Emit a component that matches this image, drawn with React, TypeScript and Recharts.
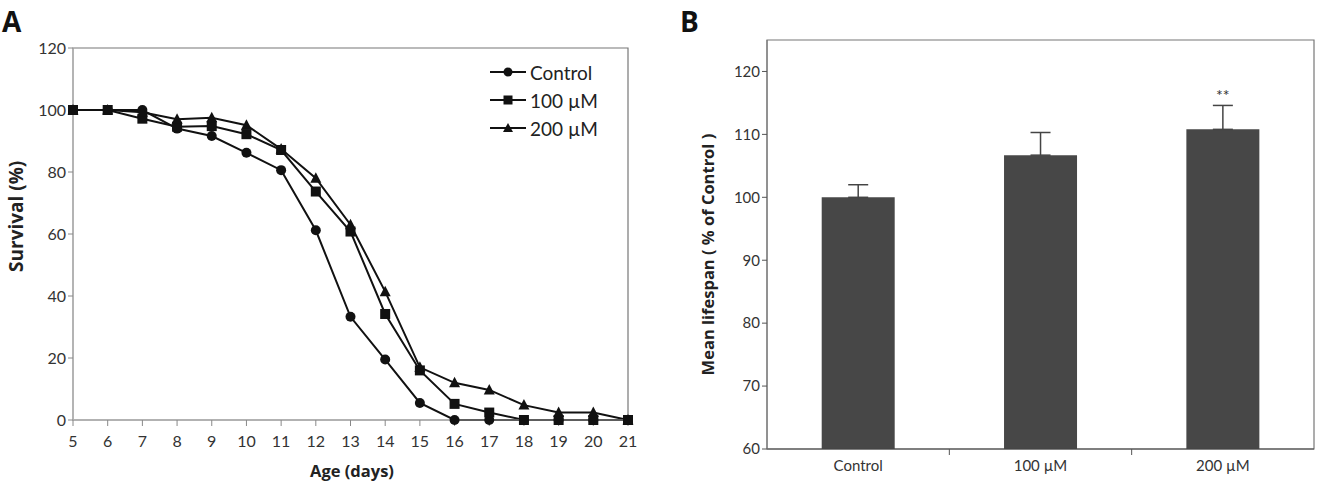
import {
  LineChart, Line, BarChart, Bar, ErrorBar, XAxis, YAxis,
  ReferenceArea, ReferenceDot,
} from "recharts";

const days = [5, 6, 7, 8, 9, 10, 11, 12, 13, 14, 15, 16, 17, 18, 19, 20, 21];
const control = [100, 100, 100, 94, 91.6, 86.2, 80.6, 61.2, 33.3, 19.5, 5.5, 0, 0, 0, 0, 0, 0];
const um100 = [100, 100, 97.2, 94.6, 94.8, 92.2, 87.1, 73.7, 60.8, 34.2, 16, 5.2, 2.4, 0, 0, 0, 0];
const um200 = [100, 100, 99.3, 97, 97.5, 95.1, 87.4, 78, 63, 41.4, 17, 12, 9.7, 4.8, 2.4, 2.4, 0];

const survivalTicks = [0, 20, 40, 60, 80, 100, 120];
const seriesNames = [
  { key: "control", name: "Control" },
  { key: "um100", name: "100 µM" },
  { key: "um200", name: "200 µM" },
];

const groups = ["Control", "100 µM", "200 µM"];
const meanLifespan = [100, 106.7, 110.8];
const sem = [2.0, 3.6, 3.8];
const lifespanTicks = [60, 70, 80, 90, 100, 110, 120];

const survivalData = days.map((d, i) => ({
  day: d,
  control: control[i],
  um100: um100[i],
  um200: um200[i],
}));

const lifespanData = groups.map((g, i) => ({
  group: g,
  mean: meanLifespan[i],
  err: [0, sem[i]],
}));

const FONT = "Lato, 'Open Sans', sans-serif";
const BOLD = "'Open Sans', sans-serif";
const INK = "#111";

function Circle(props: any) {
  const { cx, cy, index } = props;
  return <circle key={"c" + index} cx={cx} cy={cy} r={5} fill={INK} />;
}
function Square(props: any) {
  const { cx, cy, index } = props;
  return <rect key={"s" + index} x={cx - 5} y={cy - 5} width={10} height={10} fill={INK} />;
}
function Triangle(props: any) {
  const { cx, cy, index } = props;
  return (
    <polygon
      key={"t" + index}
      points={`${cx},${cy - 6} ${cx - 5.5},${cy + 4.5} ${cx + 5.5},${cy + 4.5}`}
      fill={INK}
    />
  );
}

function LegendMarker({ kind }: { kind: string }) {
  return (
    <svg width={40} height={14} style={{ marginRight: 2 }}>
      <line x1={2} y1={7} x2={38} y2={7} stroke={INK} strokeWidth={2} />
      {kind === "control" && <circle cx={20} cy={7} r={4.5} fill={INK} />}
      {kind === "um100" && <rect x={15.5} y={2.5} width={9} height={9} fill={INK} />}
      {kind === "um200" && <polygon points="20,2 15,11 25,11" fill={INK} />}
    </svg>
  );
}

function SurvivalLegend() {
  return (
    <div style={{ position: "absolute", left: 488, top: 58, fontFamily: FONT, fontSize: 19, color: "#222" }}>
      {seriesNames.map((s) => (
        <div key={s.key} style={{ display: "flex", alignItems: "center", height: 28 }}>
          <LegendMarker kind={s.key} />
          <span>{s.name}</span>
        </div>
      ))}
    </div>
  );
}

// x axis tick for the bar panel: label in the middle, tick mark at band edge
const HALF_BAND = 547 / 3 / 2;
function GroupTick(props: any) {
  const { x, y, payload, index } = props;
  return (
    <g>
      {index < groups.length - 1 && (
        <line x1={x + HALF_BAND} y1={y - 8} x2={x + HALF_BAND} y2={y - 2} stroke="#555" />
      )}
      <text x={x} y={y + 14} textAnchor="middle" fontSize={15} fill="#333" fontFamily={FONT}>
        {payload.value}
      </text>
    </g>
  );
}

function PanelLetter({ text, left }: { text: string; left: number }) {
  return (
    <div
      style={{
        position: "absolute", left, top: 2, fontFamily: BOLD,
        fontWeight: 700, fontSize: 28, color: "#111",
      }}
    >
      {text}
    </div>
  );
}

function RotatedLabel({ text, cx, cy, size }: { text: string; cx: number; cy: number; size: number }) {
  const w = 320;
  return (
    <div
      style={{
        position: "absolute", left: cx - w / 2, top: cy - size * 0.7, width: w,
        textAlign: "center", transform: "rotate(-90deg)", fontFamily: BOLD,
        fontWeight: 700, fontSize: size, color: "#222", lineHeight: `${size * 1.4}px`,
      }}
    >
      {text}
    </div>
  );
}

export default function App() {
  return (
    <div style={{ position: "absolute", left: 0, top: 0, width: 1319, height: 488, background: "#fff" }}>
      <PanelLetter text="A" left={2} />
      <PanelLetter text="B" left={680} />
      <RotatedLabel text="Survival (%)" cx={16} cy={216} size={19} />
      <RotatedLabel text="Mean lifespan ( % of Control )" cx={708} cy={255} size={16.5} />
      <div
        style={{
          position: "absolute", left: 252, width: 200, top: 459, textAlign: "center",
          fontFamily: BOLD, fontWeight: 700, fontSize: 16.5, color: "#222",
        }}
      >
        Age (days)
      </div>

      <div style={{ position: "absolute", left: 0, top: 0 }}>
        <LineChart width={660} height={488} data={survivalData} margin={{ top: 48, right: 32, bottom: 38, left: 31 }}>
          <ReferenceArea x1={5} x2={21} y1={0} y2={120} fill="none" stroke="#777" strokeWidth={1.2} />
          <XAxis
            dataKey="day" type="number" domain={[5, 21]} ticks={days}
            stroke="#aaa" tickLine={{ stroke: "#888" }} tickSize={6} height={30}
            tick={{ fontSize: 16, fill: "#333", fontFamily: FONT, dy: 8 }} interval={0}
          />
          <YAxis
            type="number" domain={[0, 120]} ticks={survivalTicks} width={42}
            stroke="#bbb" tickLine={{ stroke: "#888" }} tickSize={5}
            tick={{ fontSize: 16, fill: "#333", fontFamily: FONT }}
          />
          {seriesNames.map((s, i) => (
            <Line
              key={s.key} dataKey={s.key} name={s.name} stroke={INK} strokeWidth={2}
              dot={[Circle, Square, Triangle][i]} isAnimationActive={false}
            />
          ))}
        </LineChart>
      </div>
      <SurvivalLegend />

      <div style={{ position: "absolute", left: 680, top: 0 }}>
        <BarChart
          width={639} height={488} data={lifespanData} barCategoryGap="30%"
          margin={{ top: 40, right: 5, bottom: 9, left: 41 }}
        >
          <ReferenceArea x1="Control" x2="200 µM" y1={60} y2={125} fill="none" stroke="#777" strokeWidth={1.2} ifOverflow="extendDomain" />
          <XAxis
            dataKey="group" stroke="#444" tickLine={false} height={30}
            tick={<GroupTick />} interval={0}
          />
          <YAxis
            type="number" domain={[60, 125]} ticks={lifespanTicks} width={46}
            stroke="#777" tickLine={{ stroke: "#555" }} tickSize={5}
            tick={{ fontSize: 15, fill: "#333", fontFamily: FONT }}
          />
          <Bar dataKey="mean" fill="#474747" isAnimationActive={false}>
            <ErrorBar dataKey="err" direction="y" width={10} stroke="#444" strokeWidth={1.5} />
          </Bar>
          <ReferenceDot
            x="200 µM" y={116.2} r={0} fill="none" stroke="none"
            label={{ value: "**", fontSize: 16, fill: "#333", fontFamily: FONT, position: "center" }}
          />
        </BarChart>
      </div>
    </div>
  );
}
